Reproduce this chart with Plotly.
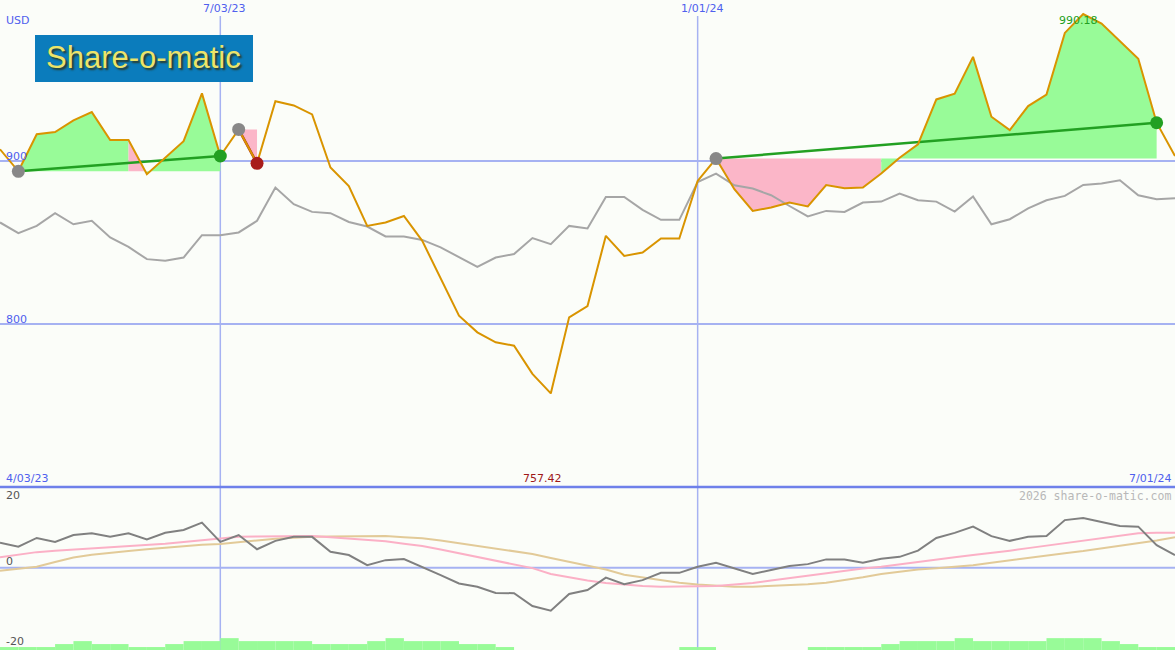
import pandas as pd
import plotly.graph_objects as go

# ---------------- data ----------------
dates = pd.date_range("2023-04-10", periods=65, freq="7D")

price = [907.2, 893.7, 916.4, 917.8, 924.9, 930.0, 912.9, 912.9, 891.9, 902.3,
         912.2, 941.5, 903.1, 919.4, 898.6, 936.7, 934.1, 928.6, 896.0, 884.7,
         860.2, 862.3, 866.3, 851.0, 827.6, 805.1, 794.9, 788.8, 786.7, 769.4,
         757.42, 804.1, 811.0, 854.1, 841.8, 843.9, 852.5, 852.5, 887.8, 901.5,
         882.7, 869.4, 871.5, 874.5, 872.1, 885.3, 883.3, 883.7, 892.3, 902.0,
         910.2, 937.8, 941.3, 963.9, 927.2, 919.0, 933.7, 940.8, 978.6, 990.18,
         984.3, 973.5, 962.7, 923.5, 903.1]

index_line = [862.3, 855.7, 860.2, 868.0, 861.2, 863.3, 853.1, 847.3, 839.8, 838.8,
              840.8, 854.5, 854.5, 856.2, 863.3, 883.7, 873.5, 868.8, 868.0, 862.6,
              859.8, 853.7, 853.7, 851.6, 847.0, 840.8, 835.1, 840.8, 842.9, 852.7,
              849.0, 860.2, 858.6, 878.0, 878.0, 870.0, 863.9, 863.9, 887.1, 892.3,
              885.1, 883.1, 879.0, 872.4, 866.0, 869.4, 868.8, 874.5, 875.1, 880.0,
              875.9, 875.1, 869.0, 878.2, 861.2, 864.3, 870.9, 875.9, 878.6, 885.3,
              886.2, 888.2, 879.0, 876.5, 877.2]

osc = [6.9, 5.8, 8.2, 7.1, 9.0, 9.5, 8.5, 9.5, 7.8, 9.6,
       10.4, 12.4, 7.1, 9.0, 5.1, 7.4, 8.5, 8.5, 4.4, 3.5,
       0.7, 2.1, 2.4, 0.3, -2.0, -4.3, -5.2, -6.9, -7.0, -10.5,
       -11.8, -7.2, -6.1, -2.7, -4.5, -3.4, -1.4, -1.4, 0.3, 1.4,
       -0.2, -1.7, -0.6, 0.5, 1.0, 2.3, 2.3, 1.4, 2.5, 3.0,
       4.7, 8.2, 9.6, 11.3, 8.7, 7.4, 8.5, 8.7, 13.1, 13.7,
       12.6, 11.5, 11.3, 6.2, 3.5]

pink_ma = [2.9, 3.6, 4.3, 4.7, 5.0, 5.3, 5.5, 5.8, 6.2, 6.6,
           7.1, 7.5, 7.9, 8.5, 8.6, 8.7, 8.7, 8.7, 8.4, 8.1,
           7.8, 7.3, 6.6, 6.0, 5.0, 4.0, 2.9, 2.0, 1.0, -0.1,
           -1.7, -2.7, -3.5, -4.2, -4.7, -5.0, -5.2, -5.2, -5.2, -5.0,
           -4.6, -4.2, -3.5, -2.8, -2.1, -1.5, -0.9, -0.2, 0.3, 1.0,
           1.7, 2.3, 2.9, 3.5, 4.0, 4.7, 5.4, 6.1, 6.8, 7.5,
           8.2, 8.8, 9.5, 9.6, 9.6]

tan_ma = [-0.8, -0.2, 0.3, 1.6, 2.8, 3.6, 4.2, 4.6, 5.1, 5.5,
          6.0, 6.3, 6.5, 6.9, 7.5, 8.0, 8.3, 8.5, 8.6, 8.6,
          8.7, 8.7, 8.4, 8.1, 7.5, 6.8, 6.0, 5.3, 4.6, 3.8,
          2.7, 1.7, 0.7, -0.5, -1.9, -2.7, -3.4, -4.1, -4.6, -5.0,
          -5.2, -5.2, -5.0, -4.9, -4.5, -4.1, -3.4, -2.6, -1.7, -1.0,
          -0.5, -0.1, 0.3, 0.7, 1.4, 2.1, 2.8, 3.5, 4.0, 4.6,
          5.3, 6.0, 6.6, 7.5, 8.4]

# weekly volume level for the week starting at each date (64 weeks)
volume = [1, 1, 1, 2, 3, 2, 2, 1, 1, 2,
          3, 3, 4, 3, 3, 3, 3, 2, 2, 2,
          3, 4, 3, 3, 3, 2, 2, 1, 0, 0,
          0, 0, 0, 0, 0, 0, 0, 1, 1, 0,
          0, 0, 0, 0, 1, 1, 1, 1, 2, 3,
          3, 3, 4, 3, 3, 3, 3, 4, 4, 4,
          3, 2, 1, 1]

# trades: (entry index, exit index)
trades = [(1, 12), (13, 14), (39, 63)]

grid_dates = ["2023-07-03", "2024-01-01"]
grid_labels = ["7/03/23", "1/01/24"]
price_grid = [900, 800]
start_label = "4/03/23"
end_label = "7/01/24"

# ---------------- styling ----------------
W, H = 1175, 650
BG = "#fbfdf9"
GRID = "#a6b2f2"
DIVIDER = "#6e80ea"
BLUE_TXT = "#4f60ee"
ORANGE = "#d99400"
GRAY = "#a6a6a6"
GREEN_FILL = "#98fb98"
PINK_FILL = "#fbb6c8"
TREND = "#22a022"
LOSS = "#a81c1c"
FONT = "DejaVu Sans"

lower_h = 163 / H  # lower panel fraction

fig = go.Figure()

# trade fills
for s, e in trades:
    base = price[s]
    runs = []
    for i in range(s, e):
        col = GREEN_FILL if price[i + 1] >= base else PINK_FILL
        if runs and runs[-1][0] == col:
            runs[-1][2] = i + 1
        else:
            runs.append([col, i, i + 1])
    for col, a, b in runs:
        xs = [dates[a]] + list(dates[a:b + 1]) + [dates[b], dates[a]]
        ys = [base] + price[a:b + 1] + [base, base]
        fig.add_trace(go.Scatter(x=xs, y=ys, mode="lines", fill="toself",
                                 fillcolor=col, line=dict(width=0, color=col),
                                 hoverinfo="skip", showlegend=False))

# comparison line
fig.add_trace(go.Scatter(x=dates, y=index_line, mode="lines",
                         line=dict(color=GRAY, width=2), showlegend=False))

# trend lines
for s, e in trades:
    col = TREND if price[e] >= price[s] else LOSS
    fig.add_trace(go.Scatter(x=[dates[s], dates[e]], y=[price[s], price[e]],
                             mode="lines", line=dict(color=col, width=2.5),
                             showlegend=False))

# price line
fig.add_trace(go.Scatter(x=dates, y=price, mode="lines",
                         line=dict(color=ORANGE, width=2), showlegend=False))

# trade markers
for s, e in trades:
    col = TREND if price[e] >= price[s] else LOSS
    fig.add_trace(go.Scatter(x=[dates[s]], y=[price[s]], mode="markers",
                             marker=dict(color="#888888", size=13), showlegend=False))
    fig.add_trace(go.Scatter(x=[dates[e]], y=[price[e]], mode="markers",
                             marker=dict(color=col, size=13), showlegend=False))

# volume bars (lower panel, own axis)
vol_x = [d + pd.Timedelta(days=3.5) for d in dates[:-1]]
fig.add_trace(go.Bar(x=vol_x, y=volume, yaxis="y3",
                     width=7 * 86400000, marker=dict(color=GREEN_FILL, line=dict(width=0)),
                     showlegend=False))

# oscillator lines
fig.add_trace(go.Scatter(x=dates, y=tan_ma, yaxis="y2", mode="lines",
                         line=dict(color="#e2ca98", width=2), showlegend=False))
fig.add_trace(go.Scatter(x=dates, y=pink_ma, yaxis="y2", mode="lines",
                         line=dict(color="#fbb0c6", width=2), showlegend=False))
fig.add_trace(go.Scatter(x=dates, y=osc, yaxis="y2", mode="lines",
                         line=dict(color="#808080", width=2), showlegend=False))

shapes = []
for v in price_grid:
    shapes.append(dict(type="line", xref="paper", x0=0, x1=1, yref="y", y0=v, y1=v,
                       line=dict(color=GRID, width=2), layer="below"))
shapes.append(dict(type="line", xref="paper", x0=0, x1=1, yref="y2", y0=0, y1=0,
                   line=dict(color=GRID, width=2), layer="below"))
for d in grid_dates:
    shapes.append(dict(type="line", xref="x", x0=d, x1=d, yref="paper",
                       y0=0, y1=1 - 16 / H, line=dict(color=GRID, width=1.5), layer="below"))
shapes.append(dict(type="line", xref="paper", x0=0, x1=1, yref="paper",
                   y0=lower_h, y1=lower_h, line=dict(color=DIVIDER, width=2.5)))
# logo box
shapes.append(dict(type="rect", xref="paper", yref="paper",
                   x0=35 / W, x1=253 / W, y0=1 - 82 / H, y1=1 - 35 / H,
                   fillcolor="#0b7cbc", line=dict(width=0)))


def px(x, y):
    return x / W, 1 - y / H


annotations = []


def add_text(text, x, y, color, size=11, xanchor="left", family=FONT, shadow=None):
    ax, ay = px(x, y)
    font = dict(family=family, size=size, color=color)
    if shadow:
        font["shadow"] = shadow
    annotations.append(dict(text=text, x=ax, y=ay, xref="paper", yref="paper",
                            xanchor=xanchor, yanchor="middle", showarrow=False,
                            font=font))


add_text("USD", 4, 20, BLUE_TXT)
for v in price_grid:
    yy = (998.8 - v) / (998.8 - 700) * (H - 163)
    add_text(str(v), 4, yy - 5, BLUE_TXT)
for d, lab in zip(grid_dates, grid_labels):
    xx = (pd.Timestamp(d) - dates[0]) / (dates[-1] - dates[0]) * W
    add_text(lab, xx + 4, 9, BLUE_TXT, xanchor="center")
add_text(start_label, 4, 478, BLUE_TXT)
add_text(end_label, 1173, 478, BLUE_TXT, xanchor="right")
imin = price.index(min(price))
imax = price.index(max(price))
xmin = (dates[imin] - dates[0]) / (dates[-1] - dates[0]) * W
xmax = (dates[imax] - dates[0]) / (dates[-1] - dates[0]) * W
add_text(f"{min(price):.2f}", xmin - 8, 478, "#a01818", xanchor="center")
add_text(f"{max(price):.2f}", xmax - 26, 21, TREND)
add_text("20", 4, 495, "#555555")
add_text("0", 4, 561, "#555555")
add_text("-20", 4, 641, "#555555")
add_text("2026 share-o-matic.com", 1173, 496, "#b8b8b8", size=11.5,
         xanchor="right", family="DejaVu Sans Mono")
# logo text with drop shadow
add_text("Share-o-matic", 143, 58, "#ece46a", size=31, xanchor="center",
         family="Liberation Sans", shadow="2px 2px 2px #2a3a28")

fig.update_layout(
    width=W, height=H,
    margin=dict(l=0, r=0, t=0, b=0),
    paper_bgcolor=BG, plot_bgcolor=BG,
    showlegend=False,
    barmode="overlay",
    xaxis=dict(range=[dates[0], dates[-1]], showgrid=False, zeroline=False,
               showticklabels=False, showline=False, ticks=""),
    yaxis=dict(domain=[lower_h, 1], range=[700, 998.8], showgrid=False,
               zeroline=False, showticklabels=False, ticks=""),
    yaxis2=dict(domain=[0, lower_h], range=[-22.6, 22.2], showgrid=False,
                zeroline=False, showticklabels=False, ticks=""),
    yaxis3=dict(overlaying="y2", range=[0, 55], visible=False),
    shapes=shapes,
    annotations=annotations,
)

fig.write_html("out.html",
               config={"displayModeBar": False},
               post_script="document.body.style.margin='0';"
                           "document.body.style.overflow='hidden';"
                           "document.body.style.background='" + BG + "';")
